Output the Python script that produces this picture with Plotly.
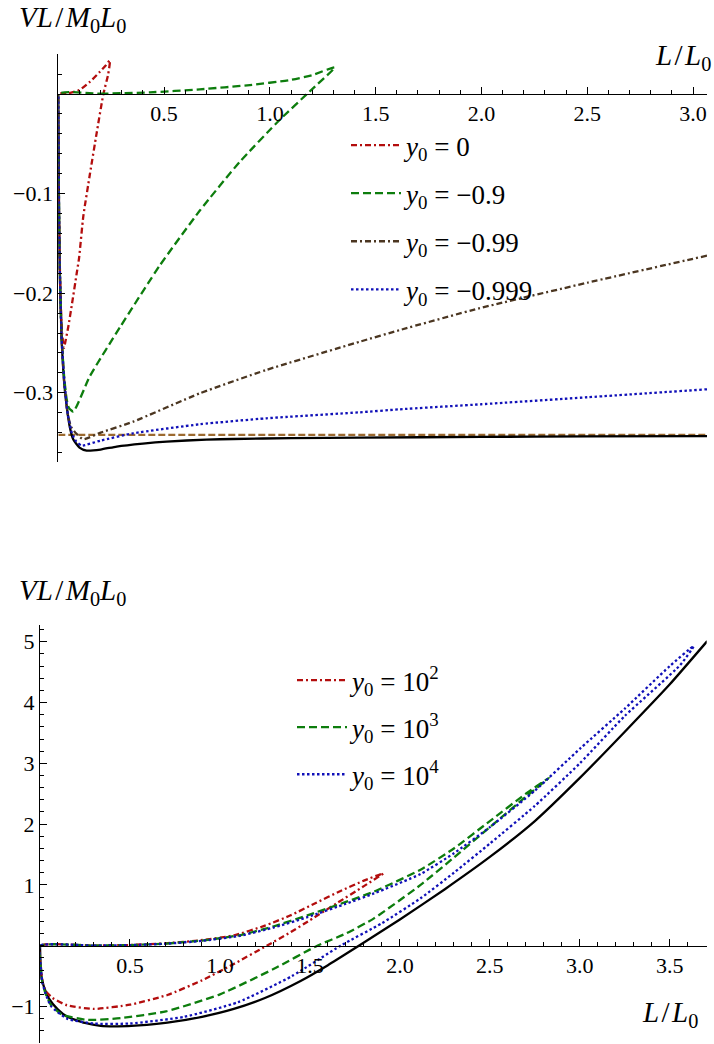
import numpy as np
import plotly.graph_objects as go

# ---------------- data: top panel ----------------
top_black_L = [0, 0.002, 0.006, 0.016, 0.028, 0.04, 0.055, 0.071, 0.1, 0.134, 0.2, 0.276, 0.4, 0.512, 0.7, 0.827, 1.1, 1.425, 2.0, 2.5, 3.07]
top_black_V = [0, -0.08, -0.17, -0.247, -0.29, -0.314, -0.335, -0.347, -0.355, -0.358, -0.357, -0.354, -0.351, -0.349, -0.347, -0.3464, -0.3455, -0.345, -0.3443, -0.3438, -0.3435]

top_red_L = [0, 0.05, 0.1, 0.15, 0.197, 0.225, 0.244, 0.236, 0.213, 0.181, 0.15, 0.118, 0.098, 0.087, 0.063, 0.047, 0.035, 0.027, 0.018, 0.01, 0.004, 0.0]
top_red_V = [0, 0.0008, 0.004, 0.0124, 0.0225, 0.029, 0.034, 0.02, 0.0, -0.0395, -0.0796, -0.123, -0.165, -0.18, -0.213, -0.234, -0.247, -0.255, -0.24, -0.2, -0.13, 0]

top_green_L = [0, 0.2, 0.433, 0.669, 0.905, 1.094, 1.2, 1.307,
               1.189, 1.047, 0.858, 0.669, 0.48, 0.292, 0.15, 0.071, 0.05, 0.04, 0.028, 0.016, 0.006, 0.002, 0]
top_green_V = [0, 0.0003, 0.0017, 0.0047, 0.009, 0.014, 0.019, 0.0268,
               0.0028, -0.0258, -0.068, -0.117, -0.172, -0.234, -0.283, -0.319, -0.315, -0.307, -0.285, -0.245, -0.165, -0.08, 0]

top_brown_L = [3.066, 2.5, 1.992, 1.614, 1.425, 0.984, 0.669, 0.354, 0.2, 0.118, 0.085, 0.06, 0.045, 0.03, 0.016, 0.006, 0.002, 0]
top_brown_V = [-0.1623, -0.1895, -0.215, -0.237, -0.2487, -0.277, -0.3005, -0.329, -0.34, -0.3467, -0.341, -0.334, -0.322, -0.295, -0.248, -0.165, -0.08, 0]

top_blue_L = [3.066, 2.5, 2.0, 1.614, 1.425, 0.984, 0.669, 0.354, 0.2, 0.11, 0.085, 0.065, 0.045, 0.03, 0.016, 0.006, 0.002, 0]
top_blue_V = [-0.2965, -0.3045, -0.3115, -0.3166, -0.3196, -0.3256, -0.3316, -0.3407, -0.348, -0.353, -0.349, -0.341, -0.322, -0.292, -0.247, -0.165, -0.08, 0]

top_asymptote = -0.3423
top_labels = ["<i>y</i><sub>0</sub> = 0", "<i>y</i><sub>0</sub> = −0.9",
              "<i>y</i><sub>0</sub> = −0.99", "<i>y</i><sub>0</sub> = −0.999"]

top_xticks = [0.5, 1.0, 1.5, 2.0, 2.5, 3.0]
top_xticktext = ["0.5", "1.0", "1.5", "2.0", "2.5", "3.0"]
top_yticks = [-0.3, -0.2, -0.1]
top_yticktext = ["−0.3", "−0.2", "−0.1"]

# ---------------- data: bottom panel ----------------
bot_black_L = [0, 0.003, 0.01, 0.022, 0.05, 0.1, 0.152, 0.25, 0.337, 0.43, 0.55, 0.708, 0.9, 1.077, 1.25, 1.448, 1.6, 1.772, 2.0, 2.25, 2.5, 2.75, 3.0, 3.25, 3.5, 3.708]
bot_black_V = [0, -0.3, -0.55, -0.675, -0.87, -1.05, -1.17, -1.27, -1.318, -1.325, -1.31, -1.265, -1.17, -1.04, -0.86, -0.58, -0.32, 0, 0.43, 0.93, 1.46, 2.05, 2.76, 3.52, 4.3, 5.01]

bot_red_L = [0, 0.3, 0.5, 0.7, 0.893, 1.077, 1.25, 1.393, 1.53, 1.67, 1.8, 1.908,
             1.8, 1.65, 1.5, 1.38, 1.26, 1.077, 0.9, 0.708, 0.5, 0.3, 0.15, 0.07, 0.03, 0.015, 0.005, 0]
bot_red_V = [0, 0.002, 0.012, 0.04, 0.09, 0.17, 0.33, 0.5, 0.7, 0.9, 1.07, 1.19,
             0.98, 0.70, 0.42, 0.2, 0.0, -0.3, -0.57, -0.81, -0.97, -1.04, -0.98, -0.86, -0.74, -0.6, -0.35, 0]

bot_green_L = [0, 0.3, 0.5, 0.7, 0.9, 1.115, 1.3, 1.486, 1.7, 1.856, 2.115, 2.3, 2.5, 2.7, 2.828,
               2.7, 2.5, 2.3, 2.115, 1.856, 1.7, 1.541, 1.3, 1.0, 0.7, 0.45, 0.263, 0.12, 0.06, 0.03, 0.012, 0.003, 0]
bot_green_V = [0, 0.002, 0.01, 0.035, 0.085, 0.176, 0.32, 0.5, 0.72, 0.89, 1.25, 1.6, 2.05, 2.5, 2.76,
               2.45, 1.95, 1.45, 1.0, 0.45, 0.2, 0.0, -0.38, -0.8, -1.08, -1.19, -1.22, -1.13, -0.97, -0.78, -0.58, -0.3, 0]

bot_blue_L = [0, 0.3, 0.5, 0.7, 0.9, 1.115, 1.3, 1.486, 1.7, 1.856, 2.115, 2.3, 2.5, 2.75, 3.004, 3.25, 3.5, 3.633,
              3.559, 3.25, 3.0, 2.75, 2.5, 2.3, 2.115, 1.9, 1.67, 1.4, 1.1, 0.8, 0.5, 0.3, 0.15, 0.06, 0.03, 0.012, 0.003, 0]
bot_blue_V = [0, 0.002, 0.01, 0.033, 0.08, 0.165, 0.3, 0.47, 0.69, 0.86, 1.18, 1.52, 1.95, 2.55, 3.25, 3.9, 4.6, 4.93,
              4.62, 3.78, 3.0, 2.3, 1.68, 1.2, 0.78, 0.37, 0.0, -0.5, -0.93, -1.17, -1.28, -1.28, -1.2, -0.99, -0.78, -0.58, -0.3, 0]

bot_labels = ["<i>y</i><sub>0</sub> = 10<sup>2</sup>", "<i>y</i><sub>0</sub> = 10<sup>3</sup>",
              "<i>y</i><sub>0</sub> = 10<sup>4</sup>"]

bot_xticks = [0.5, 1.0, 1.5, 2.0, 2.5, 3.0, 3.5]
bot_xticktext = ["0.5", "1.0", "1.5", "2.0", "2.5", "3.0", "3.5"]
bot_yticks = [-1, 1, 2, 3, 4, 5]
bot_yticktext = ["−1", "1", "2", "3", "4", "5"]

# ---------------- styles ----------------
RED = "#b30d0d"
GREEN = "#0d7d0d"
BROWN = "#4b3621"
BLUE = "#1010b8"
ORANGE = "#9c6a30"
DASHDOT = "6px,3px,2px,3px"
DASH = "8px,4px"
DOT = "2.5px,2.5px"
FONT = "Liberation Serif, Times New Roman, Times, serif"
LW = 2.3

W, H = 714, 1044


def px2x(p):
    return p / W


def py2y(p):
    return 1 - p / H


fig = go.Figure()

sp = dict(shape="spline", smoothing=0.5)

# top traces
fig.add_trace(go.Scatter(x=[0, 3.07], y=[top_asymptote, top_asymptote], mode="lines",
                         line=dict(color=ORANGE, width=LW, dash="7px,3px"), showlegend=False,
                         xaxis="x", yaxis="y"))
fig.add_trace(go.Scatter(x=top_black_L, y=top_black_V, mode="lines",
                         line=dict(color="black", width=LW, **sp), showlegend=False, xaxis="x", yaxis="y"))
for L, V, c, d, name in [(top_red_L, top_red_V, RED, DASHDOT, top_labels[0]),
                         (top_green_L, top_green_V, GREEN, DASH, top_labels[1]),
                         (top_brown_L, top_brown_V, BROWN, DASHDOT, top_labels[2]),
                         (top_blue_L, top_blue_V, BLUE, DOT, top_labels[3])]:
    fig.add_trace(go.Scatter(x=L, y=V, mode="lines", name=name, legendgroup=name,
                             line=dict(color=c, width=LW, dash=d, **sp),
                             xaxis="x", yaxis="y", legend="legend"))

# bottom traces
fig.add_trace(go.Scatter(x=bot_black_L, y=bot_black_V, mode="lines",
                         line=dict(color="black", width=LW, **sp), showlegend=False, xaxis="x2", yaxis="y2"))
for L, V, c, d, name in [(bot_red_L, bot_red_V, RED, DASHDOT, bot_labels[0]),
                         (bot_green_L, bot_green_V, GREEN, DASH, bot_labels[1]),
                         (bot_blue_L, bot_blue_V, BLUE, DOT, bot_labels[2])]:
    fig.add_trace(go.Scatter(x=L, y=V, mode="lines", name=name, legendgroup=name,
                             line=dict(color=c, width=LW, dash=d, **sp),
                             xaxis="x2", yaxis="y2", legend="legend2"))

# ---------------- axes geometry ----------------
top_xr = [0, 3.066]
top_yr = [-0.3692, 0.0402]
top_xd = [px2x(58.3), px2x(707)]
top_yd = [py2y(461.7), py2y(54)]

bot_xr = [0, 3.705]
bot_yr = [-1.6, 5.275]
bot_xd = [px2x(40), px2x(706.7)]
bot_yd = [py2y(1043), py2y(625)]


def zero_pos(yr, yd):
    return yd[0] + (0 - yr[0]) / (yr[1] - yr[0]) * (yd[1] - yd[0])


tickfont = dict(family=FONT, size=22, color="black")
common = dict(showgrid=False, zeroline=False, showline=True, linecolor="black", linewidth=1,
              ticks="inside", tickcolor="black", tickwidth=1, tickfont=tickfont, automargin=False,
              tickmode="array")

fig.update_layout(
    xaxis=dict(domain=top_xd, range=top_xr, anchor="free", position=zero_pos(top_yr, top_yd),
               tickvals=top_xticks, ticktext=top_xticktext, ticklen=7,
               minor=dict(tickmode="array", tickvals=list(np.round(np.arange(0.1, 3.06, 0.1), 2)),
                          ticks="inside", ticklen=4, tickcolor="black"), **common),
    yaxis=dict(domain=top_yd, range=top_yr, anchor="x",
               tickvals=top_yticks, ticktext=top_yticktext, ticklen=7,
               minor=dict(tickmode="array", tickvals=list(np.round(np.arange(-0.36, 0.041, 0.02), 3)),
                          ticks="inside", ticklen=4, tickcolor="black"), **common),
    xaxis2=dict(domain=bot_xd, range=bot_xr, anchor="free", position=zero_pos(bot_yr, bot_yd),
                tickvals=bot_xticks, ticktext=bot_xticktext, ticklen=7,
                minor=dict(tickmode="array", tickvals=list(np.round(np.arange(0.1, 3.71, 0.1), 2)),
                           ticks="inside", ticklen=4, tickcolor="black"), **common),
    yaxis2=dict(domain=bot_yd, range=bot_yr, anchor="x2",
                tickvals=bot_yticks, ticktext=bot_yticktext, ticklen=7,
                minor=dict(tickmode="array", tickvals=list(np.round(np.arange(-1.4, 5.21, 0.2), 2)),
                           ticks="inside", ticklen=4, tickcolor="black"), **common),
)

legfont = dict(family=FONT, size=27, color="black")
HS = "\u200a"
ytitle = "<i>VL</i>" + HS + "/" + HS + "<i>M</i><sub>0</sub><i>L</i><sub>0</sub>"
xtitle = "<i>L</i>" + HS + "/" + HS + "<i>L</i><sub>0</sub>"
fig.update_layout(
    width=W, height=H, margin=dict(l=0, r=0, t=0, b=0),
    paper_bgcolor="white", plot_bgcolor="white",
    font=dict(family=FONT),
    legend=dict(x=px2x(346), y=py2y(121), xanchor="left", yanchor="top", font=legfont,
                bgcolor="rgba(0,0,0,0)", tracegroupgap=10, itemwidth=50, traceorder="grouped"),
    legend2=dict(x=px2x(292), y=py2y(656), xanchor="left", yanchor="top", font=legfont,
                 bgcolor="rgba(0,0,0,0)", tracegroupgap=9, itemwidth=50, traceorder="grouped"),
    annotations=[
        dict(text=ytitle, x=px2x(17), y=py2y(19),
             xref="paper", yref="paper", xanchor="left", yanchor="middle", showarrow=False,
             font=dict(family=FONT, size=29, color="black")),
        dict(text=xtitle, x=px2x(713), y=py2y(57),
             xref="paper", yref="paper", xanchor="right", yanchor="middle", showarrow=False,
             font=dict(family=FONT, size=29, color="black")),
        dict(text=ytitle, x=px2x(17), y=py2y(592),
             xref="paper", yref="paper", xanchor="left", yanchor="middle", showarrow=False,
             font=dict(family=FONT, size=29, color="black")),
        dict(text=xtitle, x=px2x(700), y=py2y(1014),
             xref="paper", yref="paper", xanchor="right", yanchor="middle", showarrow=False,
             font=dict(family=FONT, size=29, color="black")),
    ],
)

fig.write_html("out.html")
